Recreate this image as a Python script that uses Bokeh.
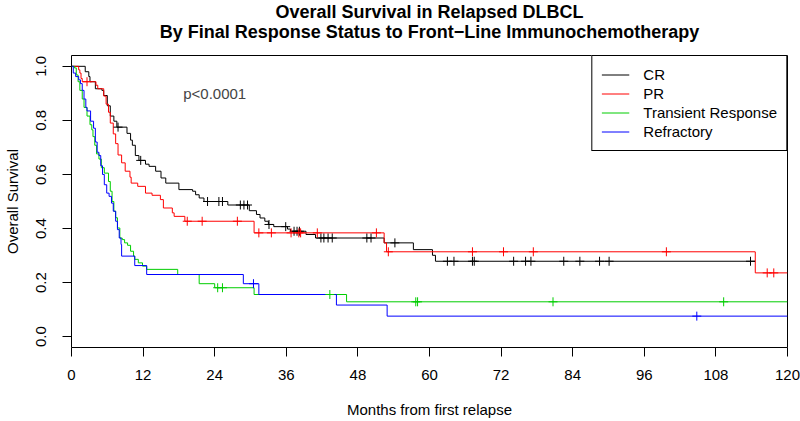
import numpy as np
from bokeh.plotting import figure
from bokeh.models import Range1d, FixedTicker, Label, Legend, LegendItem, PrintfTickFormatter, Title
from bokeh.embed import file_html
from bokeh.resources import INLINE

FONT = "Liberation Sans"

# ---------------- texts ----------------
title_line1 = "Overall Survival in Relapsed DLBCL"
title_line2 = "By Final Response Status to Front\u2212Line Immunochemotherapy"
x_label = "Months from first relapse"
y_label = "Overall Survival"
p_value_text = "p<0.0001"

x_ticks = [0, 12, 24, 36, 48, 60, 72, 84, 96, 108, 120]
y_ticks = [0.0, 0.2, 0.4, 0.6, 0.8, 1.0]
y_tick_labels = ["0.0", "0.2", "0.4", "0.6", "0.8", "1.0"]

groups = ["CR", "PR", "Transient Response", "Refractory"]
colors = ["#000000", "#FF0000", "#00CD00", "#0000FF"]

# ---------------- data (Kaplan-Meier step curves) ----------------
cr_time = [0, 2.3, 2.9, 3.1, 4.0, 5.1, 5.4, 6.0, 6.5, 7.1, 7.6, 9.3, 9.9, 10.2, 10.7, 11.3,
           12.4, 13.0, 14.1, 15.0, 15.8, 18.0, 20.3, 20.8, 21.4, 22.2, 26.2, 29.8, 31.0,
           31.6, 32.4, 33.0, 33.9, 36.2, 36.7, 39.3, 40.9, 52.4, 57.3, 60.5, 61.0]
cr_surv = [1.0, 0.98, 0.962, 0.943, 0.917, 0.911, 0.892, 0.854, 0.816, 0.797, 0.775, 0.752,
           0.727, 0.708, 0.67, 0.652, 0.638, 0.63, 0.612, 0.587, 0.568, 0.544, 0.538, 0.525,
           0.513, 0.50, 0.487, 0.466, 0.452, 0.439, 0.427, 0.415, 0.407, 0.398, 0.39, 0.378,
           0.365, 0.347, 0.322, 0.301, 0.279]
cr_end = 114.6
cr_censor = [7.8, 11.6, 22.8, 24.7, 25.3, 28.3, 28.9, 29.5, 33.1, 35.9, 37.3, 37.8, 38.2,
             41.8, 42.3, 43.0, 43.7, 49.5, 50.2, 54.2, 63.0, 64.1, 67.2, 67.5, 74.1, 76.1,
             77.0, 82.5, 85.2, 88.5, 90.1, 113.8]

pr_time = [0, 1.2, 1.4, 1.6, 1.8, 4.1, 4.4, 5.4, 5.8, 6.2, 6.5, 7.0, 7.4, 7.8, 8.4, 9.0,
           9.8, 10.0, 11.1, 12.4, 13.5, 14.9, 15.4, 16.9, 17.2, 19.0, 30.6, 52.4, 52.8, 114.6]
pr_surv = [1.0, 0.987, 0.975, 0.955, 0.943, 0.93, 0.917, 0.89, 0.86, 0.83, 0.79, 0.75, 0.714,
           0.672, 0.643, 0.612, 0.59, 0.568, 0.556, 0.531, 0.523, 0.507, 0.476, 0.458, 0.445,
           0.427, 0.384, 0.347, 0.314, 0.236]
pr_end = 120.0
pr_censor = [2.6, 19.4, 21.9, 27.8, 31.4, 33.5, 36.8, 38.1, 38.4, 41.2, 51.1, 53.1, 67.2,
             72.4, 77.4, 99.7, 116.6, 117.7]

tr_time = [0, 0.5, 0.8, 1.1, 1.4, 1.8, 2.1, 2.6, 3.1, 3.4, 3.6, 3.9, 4.2, 4.6, 5.0, 5.5,
           6.2, 6.5, 6.8, 7.1, 7.4, 7.7, 8.1, 8.5, 8.9, 9.4, 9.9, 10.4, 10.6, 11.2, 11.9,
           12.6, 17.8, 21.4, 24.0, 30.6, 46.1]
tr_surv = [1.0, 0.994, 0.968, 0.943, 0.911, 0.879, 0.848, 0.816, 0.784, 0.765, 0.74, 0.708,
           0.676, 0.657, 0.625, 0.605, 0.574, 0.538, 0.50, 0.464, 0.44, 0.402, 0.365, 0.359,
           0.347, 0.338, 0.316, 0.298, 0.286, 0.273, 0.261, 0.249, 0.23, 0.196, 0.181, 0.156,
           0.129]
tr_end = 120.0
tr_censor = [24.5, 25.3, 43.3, 57.7, 58.0, 80.7, 109.3]

rf_time = [0, 0.3, 0.7, 1.2, 1.5, 1.8, 2.1, 2.4, 2.6, 3.2, 3.7, 4.0, 4.3, 4.6, 4.9, 5.2,
           5.5, 5.9, 6.3, 6.7, 7.0, 7.4, 7.7, 8.0, 8.3, 8.4, 10.6, 12.6, 28.8, 31.4, 44.4, 52.9]
rf_surv = [1.0, 0.975, 0.962, 0.95, 0.936, 0.911, 0.879, 0.848, 0.835, 0.797, 0.771, 0.72,
           0.682, 0.67, 0.632, 0.6, 0.562, 0.531, 0.519, 0.494, 0.464, 0.427, 0.396, 0.365,
           0.341, 0.298, 0.263, 0.23, 0.196, 0.156, 0.117, 0.076]
rf_end = 120.0
rf_censor = [30.5, 104.8]

series = [
    (cr_time, cr_surv, cr_end, cr_censor),
    (pr_time, pr_surv, pr_end, pr_censor),
    (tr_time, tr_surv, tr_end, tr_censor),
    (rf_time, rf_surv, rf_end, rf_censor),
]

# ---------------- layout ----------------
W, H = 800, 421
BL, BR, BT, BB = 71, 13, 55, 74

p = figure(width=W, height=H, x_range=Range1d(0, 120), y_range=Range1d(-0.04, 1.04),
           output_backend="svg", toolbar_location=None, title=None,
           min_border_left=BL, min_border_right=BR, min_border_top=BT, min_border_bottom=BB,
           background_fill_color="white", border_fill_color="white")

p.grid.visible = False
p.outline_line_color = "black"
p.outline_line_width = 1
p.outline_line_alpha = 1

p.xaxis.ticker = FixedTicker(ticks=x_ticks, minor_ticks=[])
p.yaxis.ticker = FixedTicker(ticks=y_ticks, minor_ticks=[])
p.yaxis.formatter = PrintfTickFormatter(format="%.1f")
p.yaxis.major_label_overrides = {t: l for t, l in zip(y_ticks, y_tick_labels)}
p.yaxis.major_label_orientation = "vertical"
for ax in (p.xaxis[0], p.yaxis[0]):
    ax.axis_line_color = None
    ax.major_tick_line_color = "black"
    ax.major_tick_line_width = 1
    ax.major_tick_out = 9
    ax.major_tick_in = 0
    ax.minor_tick_line_color = None
    ax.major_label_text_font = FONT
    ax.major_label_text_font_size = "15px"
    ax.major_label_text_color = "black"
    ax.axis_label_text_font = FONT
    ax.axis_label_text_font_size = "15px"
    ax.axis_label_text_font_style = "normal"
    ax.axis_label_text_color = "black"
p.xaxis.major_label_standoff = 13
p.yaxis.major_label_standoff = 16
p.xaxis.axis_label = x_label
p.yaxis.axis_label = y_label
p.xaxis.axis_label_standoff = 18
p.yaxis.axis_label_standoff = 13

items = []
for (t, s, end, cens), name, col in zip(series, groups, colors):
    xs = list(t) + [end]
    ys = list(s) + [s[-1]]
    r = p.step(xs, ys, mode="after", line_color=col, line_width=1)
    items.append(LegendItem(label=name, renderers=[r]))
for (t, s, end, cens), name, col in zip(series, groups, colors):
    idx = np.searchsorted(np.array(t), np.array(cens), side="right") - 1
    cy = [s[i] for i in idx]
    p.scatter(cens, cy, marker="cross", size=9, line_color=col, line_width=1)

legend = Legend(items=items, location="top_right", margin=0, padding=9, spacing=0,
                glyph_width=28, glyph_height=19, label_standoff=14, label_height=19,
                label_text_font=FONT, label_text_font_size="15px", label_text_color="black",
                border_line_color="black", border_line_width=1, border_line_alpha=1,
                background_fill_color="white", background_fill_alpha=1)
p.add_layout(legend)

# titles: added nearest-first
p.add_layout(Title(text=title_line2, align="center", text_font=FONT, text_font_size="18px",
                   text_font_style="bold", text_color="black", standoff=28), "above")
p.add_layout(Title(text=title_line1, align="center", text_font=FONT, text_font_size="18px",
                   text_font_style="bold", text_color="black", standoff=-32), "above")

p.add_layout(Label(x=24, y=0.9, text=p_value_text, text_align="center", text_baseline="middle",
                   text_font=FONT, text_font_size="15px"))

open("out.html", "w").write(file_html(p, INLINE))
